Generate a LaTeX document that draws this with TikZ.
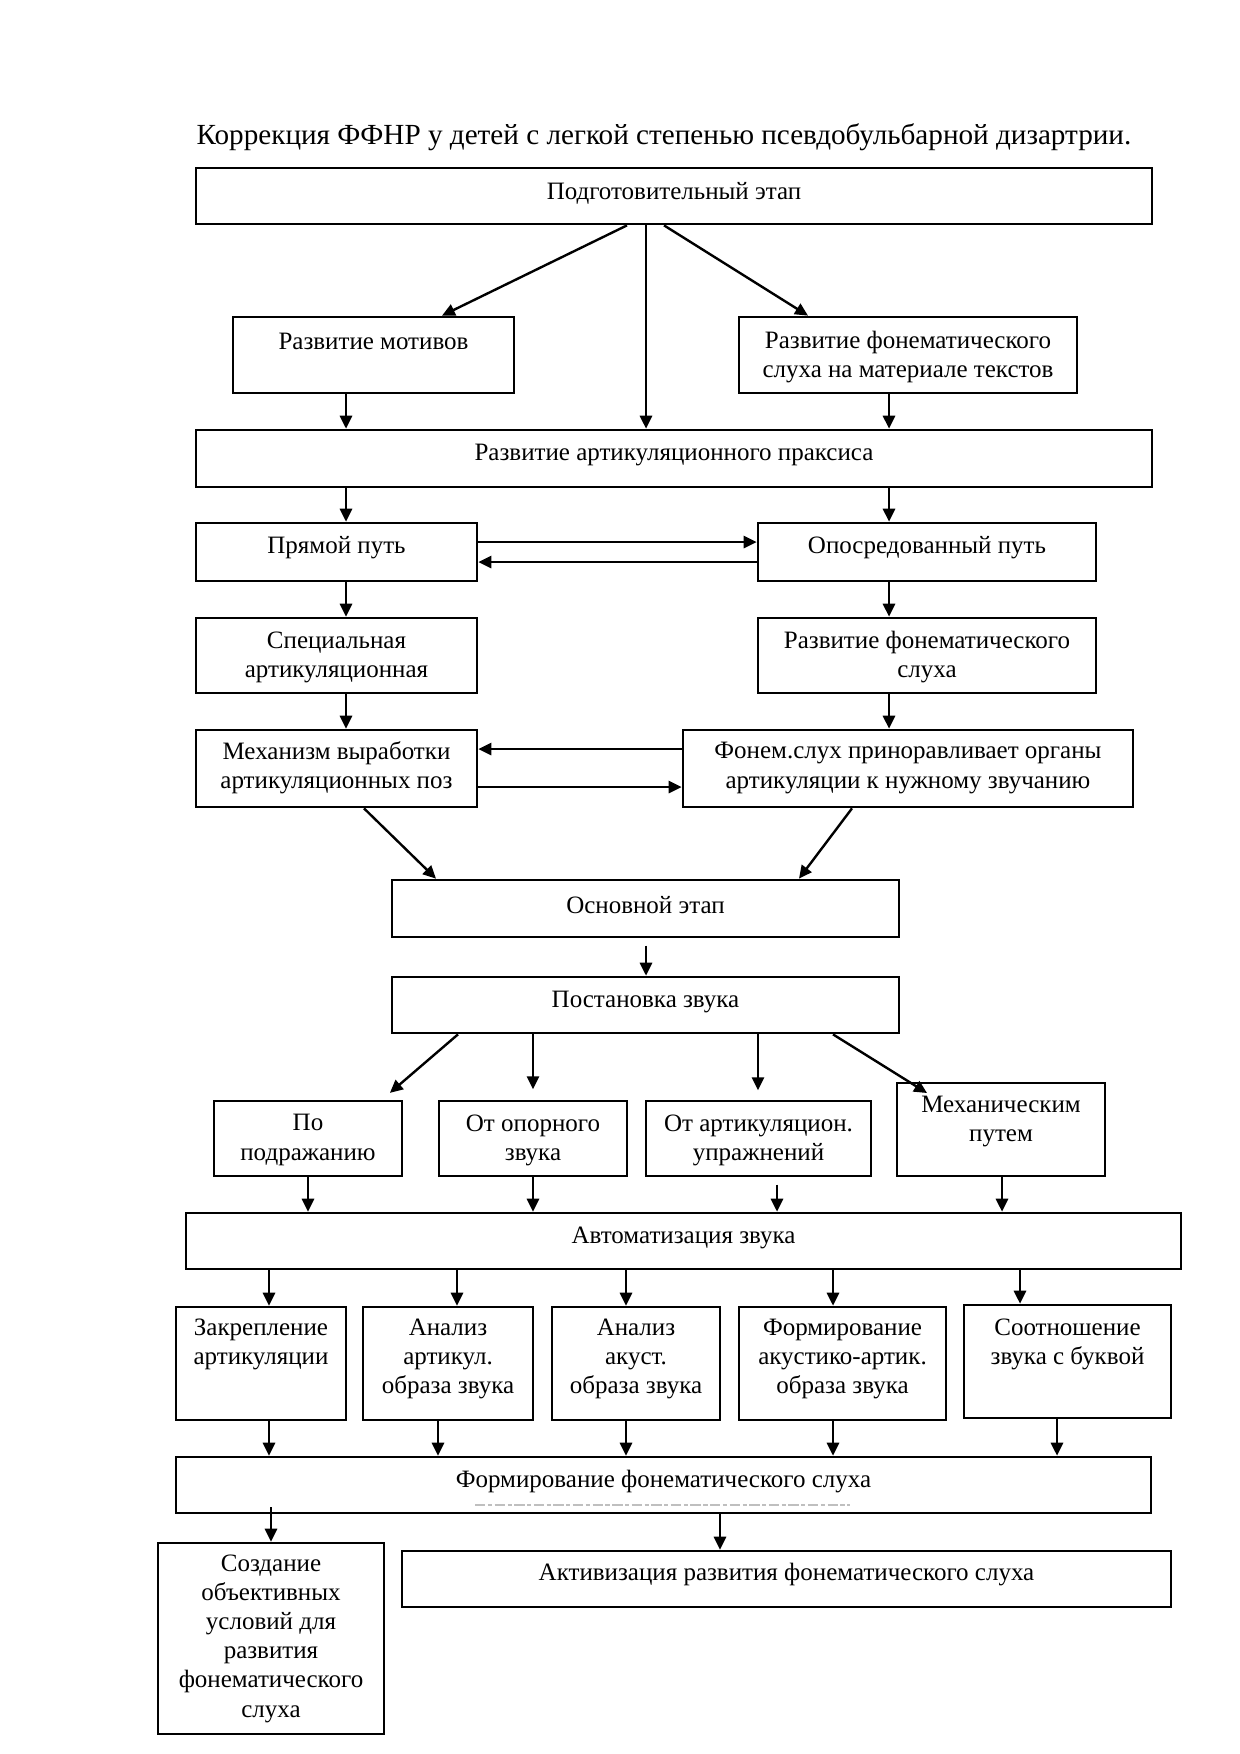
\documentclass[tikz,border=0pt]{standalone}
\usepackage{fontspec}
\setmainfont{Liberation Serif}
\usetikzlibrary{arrows.meta,fit}
\begin{document}
\begin{tikzpicture}[x=0.48pt,y=-0.48pt,
  box/.style={draw, line width=1.3pt, inner sep=0pt},
  txt/.style={font=\fontsize{12}{14}\selectfont, align=center, inner sep=0pt},
  arr/.style={-{Triangle[length=6.2pt,width=5.8pt]}, line width=1.15pt}]
\fill[white] (0,0) rectangle (1240,1754);
\useasboundingbox (0,0) rectangle (1240,1754);

\node[font=\fontsize{14}{16}\selectfont, inner sep=0pt] (title) at (664,137) {Коррекция ФФНР у детей с легкой степенью псевдобульбарной дизартрии.};

% boxes
\node[box, fit={(196,168) (1152,224)}] (prep) {};
\node[txt] (prep-t) at (674,193) {Подготовительный этап};
\node[box, fit={(233,317) (514,393)}] (motiv) {};
\node[txt] (motiv-t) at (373.5,341) {Развитие мотивов};
\node[box, fit={(739,317) (1077,393)}] (fontext) {};
\node[txt] (fontext-t) at (908,357) {Развитие фонематического\\слуха на материале текстов};
\node[box, fit={(196,430) (1152,487)}] (praks) {};
\node[txt] (praks-t) at (674,455) {Развитие артикуляционного праксиса};
\node[box, fit={(196,523) (477,581)}] (pryam) {};
\node[txt] (pryam-t) at (336.5,548) {Прямой путь};
\node[box, fit={(758,523) (1096,581)}] (oposr) {};
\node[txt] (oposr-t) at (927,548) {Опосредованный путь};
\node[box, fit={(196,618) (477,693)}] (spec) {};
\node[txt] (spec-t) at (336.5,657) {Специальная\\артикуляционная};
\node[box, fit={(758,618) (1096,693)}] (fonsl) {};
\node[txt] (fonsl-t) at (927,657) {Развитие фонематического\\слуха};
\node[box, fit={(196,730) (477,807)}] (mech) {};
\node[txt] (mech-t) at (336.5,768) {Механизм выработки\\артикуляционных поз};
\node[box, fit={(683,730) (1133,807)}] (fonem) {};
\node[txt] (fonem-t) at (908,768) {Фонем.слух приноравливает органы\\артикуляции к нужному звучанию};
\node[box, fit={(392,880) (899,937)}] (osn) {};
\node[txt] (osn-t) at (645.5,905) {Основной этап};
\node[box, fit={(392,977) (899,1033)}] (post) {};
\node[txt] (post-t) at (645.5,1002) {Постановка звука};
\node[box, fit={(214,1101) (402,1176)}] (podr) {};
\node[txt] (podr-t) at (308,1140) {По\\подражанию};
\node[box, fit={(439,1101) (627,1176)}] (opor) {};
\node[txt] (opor-t) at (533,1140) {От опорного\\звука};
\node[box, fit={(646,1101) (871,1176)}] (artupr) {};
\node[txt] (artupr-t) at (758.5,1140) {От артикуляцион.\\упражнений};
\node[box, fit={(897,1083) (1105,1176)}] (mehput) {};
\node[txt] (mehput-t) at (1001,1121.5) {Механическим\\путем};
\node[box, fit={(186,1213) (1181,1269)}] (avto) {};
\node[txt] (avto-t) at (683.5,1238) {Автоматизация звука};
\node[box, fit={(176,1307) (346,1420)}] (zakr) {};
\node[txt] (zakr-t) at (261,1344.5) {Закрепление\\артикуляции};
\node[box, fit={(363,1307) (533,1420)}] (anart) {};
\node[txt] (anart-t) at (448,1359) {Анализ\\артикул.\\образа звука};
\node[box, fit={(552,1307) (720,1420)}] (anak) {};
\node[txt] (anak-t) at (636,1359) {Анализ\\акуст.\\образа звука};
\node[box, fit={(739,1307) (946,1420)}] (form) {};
\node[txt] (form-t) at (842.5,1359) {Формирование\\акустико-артик.\\образа звука};
\node[box, fit={(964,1305) (1171,1418)}] (sootn) {};
\node[txt] (sootn-t) at (1067.5,1344) {Соотношение\\звука с буквой};
\node[box, fit={(176,1457) (1151,1513)}] (formfs) {};
\node[txt] (formfs-t) at (663.5,1482) {Формирование фонематического слуха};
\node[box, fit={(158,1543) (384,1734)}] (sozd) {};
\node[txt] (sozd-t) at (271,1638.5) {Создание\\объективных\\условий для\\развития\\фонематического\\слуха};
\node[box, fit={(402,1551) (1171,1607)}] (aktiv) {};
\node[txt] (aktiv-t) at (786.5,1575) {Активизация развития фонематического слуха};

% faint remnant line
\draw[gray!50, line width=0.6pt, dash pattern=on 5pt off 1.2pt on 2pt off 1.2pt] (475,1505) -- (850,1505);

% connectors
\draw[arr] (627,0 |- prep.south) -- (442,0 |- motiv.north);
\draw[arr] (646,0 |- prep.south) -- (646,0 |- praks.north);
\draw[arr] (664,0 |- prep.south) -- (808,0 |- fontext.north);
\draw[arr] (346,0 |- motiv.south) -- (346,0 |- praks.north);
\draw[arr] (889,0 |- fontext.south) -- (889,0 |- praks.north);
\draw[arr] (346,0 |- praks.south) -- (346,0 |- pryam.north);
\draw[arr] (889,0 |- praks.south) -- (889,0 |- oposr.north);
\draw[arr] (pryam.east |- 0,542) -- (oposr.west |- 0,542);
\draw[arr] (oposr.west |- 0,562) -- (pryam.east |- 0,562);
\draw[arr] (346,0 |- pryam.south) -- (346,0 |- spec.north);
\draw[arr] (889,0 |- oposr.south) -- (889,0 |- fonsl.north);
\draw[arr] (346,0 |- spec.south) -- (346,0 |- mech.north);
\draw[arr] (889,0 |- fonsl.south) -- (889,0 |- fonem.north);
\draw[arr] (fonem.west |- 0,749) -- (mech.east |- 0,749);
\draw[arr] (mech.east |- 0,787) -- (fonem.west |- 0,787);
\draw[arr] (364,0 |- mech.south) -- (436,0 |- osn.north);
\draw[arr] (852,0 |- fonem.south) -- (799,0 |- osn.north);
\draw[arr, shorten <=3.5pt] (646,0 |- osn.south) -- (646,0 |- post.north);
\draw[arr, shorten >=5pt] (458,0 |- post.south) -- (382,0 |- podr.north);
\draw[arr, shorten >=5pt] (533,0 |- post.south) -- (533,0 |- opor.north);
\draw[arr, shorten >=4.5pt] (758,0 |- post.south) -- (758,0 |- artupr.north);
\coordinate (mtip) at (927,1093);
\draw[arr] (833,0 |- post.south) -- (mtip);
\draw[arr] (308,0 |- podr.south) -- (308,0 |- avto.north);
\draw[arr] (533,0 |- opor.south) -- (533,0 |- avto.north);
\draw[arr, shorten <=3.5pt] (777,0 |- artupr.south) -- (777,0 |- avto.north);
\draw[arr] (1002,0 |- mehput.south) -- (1002,0 |- avto.north);
\draw[arr] (269,0 |- avto.south) -- (269,0 |- zakr.north);
\draw[arr] (457,0 |- avto.south) -- (457,0 |- anart.north);
\draw[arr] (626,0 |- avto.south) -- (626,0 |- anak.north);
\draw[arr] (833,0 |- avto.south) -- (833,0 |- form.north);
\draw[arr] (1020,0 |- avto.south) -- (1020,0 |- sootn.north);
\draw[arr] (269,0 |- zakr.south) -- (269,0 |- formfs.north);
\draw[arr] (438,0 |- anart.south) -- (438,0 |- formfs.north);
\draw[arr] (626,0 |- anak.south) -- (626,0 |- formfs.north);
\draw[arr] (833,0 |- form.south) -- (833,0 |- formfs.north);
\draw[arr] (1057,0 |- sootn.south) -- (1057,0 |- formfs.north);
\draw[arr, shorten <=-3.5pt] (271,0 |- formfs.south) -- (271,0 |- sozd.north);
\draw[arr] (720,0 |- formfs.south) -- (720,0 |- aktiv.north);
\end{tikzpicture}
\end{document}
